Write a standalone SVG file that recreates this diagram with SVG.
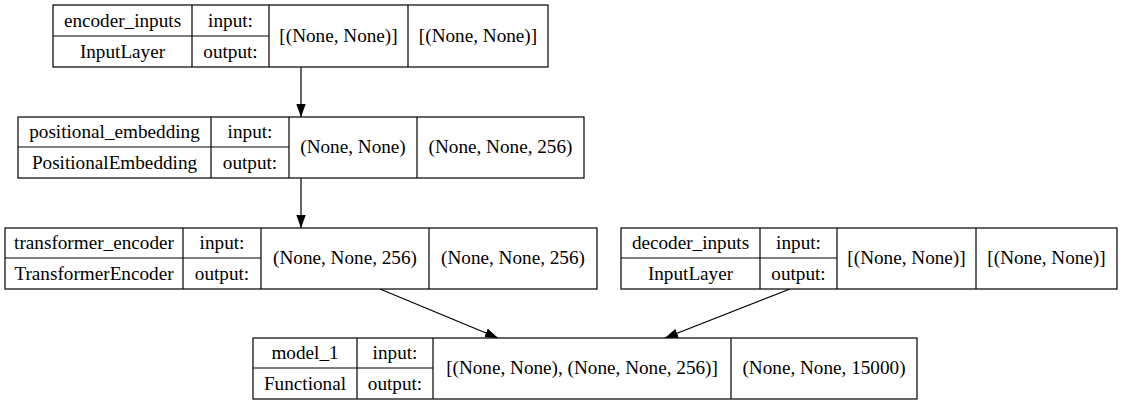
<svg xmlns="http://www.w3.org/2000/svg" width="1123" height="405" viewBox="0 0 1123 405">
<defs>
<marker id="ah" markerUnits="userSpaceOnUse" markerWidth="14" markerHeight="10" refX="13" refY="4.7" orient="auto">
<path d="M0,0 L13,4.7 L0,9.4 z" fill="#000"/>
</marker>
<style>
rect, line.d { fill: #fff; stroke: #000; stroke-width: 1.2; }
line.d { fill: none; }
text { font-family: "Liberation Serif", "Times New Roman", serif; font-size: 19.2px; fill: #000; text-anchor: middle; }
.edge { stroke: #000; stroke-width: 1.2; fill: none; marker-end: url(#ah); }
</style>
</defs>
<rect width="1123" height="405" style="stroke:none" fill="#fff"/>

<g id="connectors">
<line class="edge" x1="301" y1="67" x2="301" y2="117"/>
<line class="edge" x1="301" y1="178" x2="301" y2="228"/>
<line class="edge" x1="380" y1="289" x2="498" y2="338"/>
<line class="edge" x1="790" y1="289" x2="665" y2="338"/>
</g>

<g id="encoder_inputs">
<rect x="53" y="5" width="495" height="62"/>
<line class="d" x1="192" y1="5" x2="192" y2="67"/>
<line class="d" x1="269" y1="5" x2="269" y2="67"/>
<line class="d" x1="408" y1="5" x2="408" y2="67"/>
<line class="d" x1="53" y1="36" x2="269" y2="36"/>
<text x="122.5" y="27">encoder_inputs</text>
<text x="122.5" y="58">InputLayer</text>
<text x="230.5" y="27">input:</text>
<text x="230.5" y="58">output:</text>
<text x="338.5" y="42">[(None, None)]</text>
<text x="478" y="42">[(None, None)]</text>
</g>

<g id="positional_embedding">
<rect x="18" y="117" width="566" height="61"/>
<line class="d" x1="211" y1="117" x2="211" y2="178"/>
<line class="d" x1="289" y1="117" x2="289" y2="178"/>
<line class="d" x1="417" y1="117" x2="417" y2="178"/>
<line class="d" x1="18" y1="147" x2="289" y2="147"/>
<text x="114.5" y="138">positional_embedding</text>
<text x="114.5" y="169">PositionalEmbedding</text>
<text x="250" y="138">input:</text>
<text x="250" y="169">output:</text>
<text x="353" y="153">(None, None)</text>
<text x="500.5" y="153">(None, None, 256)</text>
</g>

<g id="transformer_encoder">
<rect x="5" y="228" width="592" height="61"/>
<line class="d" x1="183" y1="228" x2="183" y2="289"/>
<line class="d" x1="261" y1="228" x2="261" y2="289"/>
<line class="d" x1="429" y1="228" x2="429" y2="289"/>
<line class="d" x1="5" y1="258" x2="261" y2="258"/>
<text x="94" y="249">transformer_encoder</text>
<text x="94" y="280">TransformerEncoder</text>
<text x="222" y="249">input:</text>
<text x="222" y="280">output:</text>
<text x="345" y="264">(None, None, 256)</text>
<text x="513" y="264">(None, None, 256)</text>
</g>

<g id="decoder_inputs">
<rect x="621" y="228" width="496" height="61"/>
<line class="d" x1="760" y1="228" x2="760" y2="289"/>
<line class="d" x1="837" y1="228" x2="837" y2="289"/>
<line class="d" x1="976" y1="228" x2="976" y2="289"/>
<line class="d" x1="621" y1="258" x2="837" y2="258"/>
<text x="690.5" y="249">decoder_inputs</text>
<text x="690.5" y="280">InputLayer</text>
<text x="798.5" y="249">input:</text>
<text x="798.5" y="280">output:</text>
<text x="906.5" y="264">[(None, None)]</text>
<text x="1046.5" y="264">[(None, None)]</text>
</g>

<g id="model_1">
<rect x="253" y="338" width="664" height="61"/>
<line class="d" x1="357" y1="338" x2="357" y2="399"/>
<line class="d" x1="433" y1="338" x2="433" y2="399"/>
<line class="d" x1="731" y1="338" x2="731" y2="399"/>
<line class="d" x1="253" y1="368" x2="433" y2="368"/>
<text x="305" y="359">model_1</text>
<text x="305" y="390">Functional</text>
<text x="395" y="359">input:</text>
<text x="395" y="390">output:</text>
<text x="582" y="374">[(None, None), (None, None, 256)]</text>
<text x="824" y="374">(None, None, 15000)</text>
</g>
</svg>
